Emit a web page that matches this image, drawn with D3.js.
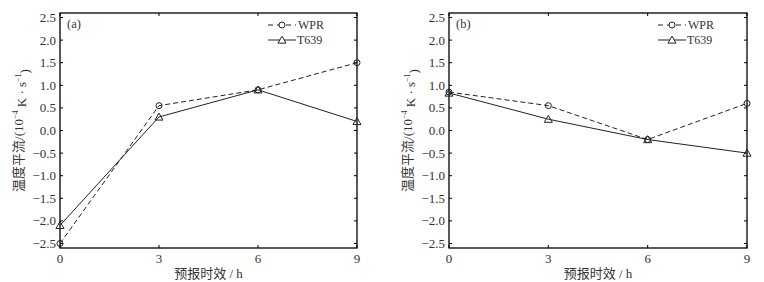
<!DOCTYPE html>
<html>
<head>
<meta charset="utf-8">
<script src="https://cdn.jsdelivr.net/npm/d3@7"></script>
<style>
body { margin: 0; background: #fff; }
svg { display: block; }
</style>
</head>
<body>
<script>
var hours = [0, 3, 6, 9];
var yTicks = [-2.5, -2.0, -1.5, -1.0, -0.5, 0.0, 0.5, 1.0, 1.5, 2.0, 2.5];
var wprA = [-2.5, 0.55, 0.9, 1.5];
var t639A = [-2.1, 0.3, 0.9, 0.2];
var wprB = [0.85, 0.55, -0.2, 0.6];
var t639B = [0.83, 0.25, -0.2, -0.5];

var width = 764, height = 282;
var svg = d3.select("body").append("svg")
    .attr("width", width)
    .attr("height", height);

var serif = "'Liberation Serif', 'Times New Roman', serif";
var cjk = "'Noto Sans CJK SC', sans-serif";

function panel(left, right, tag, wpr, t639) {
    var top = 13, bottom = 248;
    var x = d3.scaleLinear().domain([0, 9]).range([left, right]);
    var y = d3.scaleLinear().domain([-2.6, 2.6]).range([bottom, top]);
    var g = svg.append("g");

    // box
    g.append("rect")
        .attr("x", left).attr("y", top)
        .attr("width", right - left).attr("height", bottom - top)
        .attr("fill", "none").attr("stroke", "#000").attr("stroke-width", 1.3);

    // ticks (inward, mirrored)
    yTicks.forEach(function (v) {
        g.append("line").attr("x1", left).attr("x2", left + 3)
            .attr("y1", y(v)).attr("y2", y(v)).attr("stroke", "#000");
        g.append("line").attr("x1", right).attr("x2", right - 3)
            .attr("y1", y(v)).attr("y2", y(v)).attr("stroke", "#000");
        g.append("text")
            .attr("x", left - 4).attr("y", y(v)).attr("dy", "0.35em")
            .attr("text-anchor", "end")
            .attr("font-family", serif).attr("font-size", "13px").attr("fill", "#333")
            .text(d3.format(".1f")(v).replace("-", "\u2212"));
    });
    hours.forEach(function (v) {
        g.append("line").attr("x1", x(v)).attr("x2", x(v))
            .attr("y1", bottom).attr("y2", bottom - 3).attr("stroke", "#000");
        g.append("line").attr("x1", x(v)).attr("x2", x(v))
            .attr("y1", top).attr("y2", top + 3).attr("stroke", "#000");
        g.append("text")
            .attr("x", x(v)).attr("y", bottom + 15)
            .attr("text-anchor", "middle")
            .attr("font-family", serif).attr("font-size", "13px").attr("fill", "#333")
            .text(v);
    });

    // axis titles
    g.append("text")
        .attr("transform", "translate(" + (left - 37) + "," + ((top + bottom) / 2) + ") rotate(-90)")
        .attr("text-anchor", "middle")
        .attr("font-size", "13px").attr("fill", "#333")
        .call(function (t) {
            t.append("tspan").attr("font-family", cjk).text("温度平流");
            t.append("tspan").attr("font-family", serif).text("/(10");
            t.append("tspan").attr("font-family", serif).attr("font-size", "8px").attr("dy", "-0.6em").text("\u22124");
            t.append("tspan").attr("font-family", serif).attr("dy", "0.6em").text("  K \u00b7 s");
            t.append("tspan").attr("font-family", serif).attr("font-size", "8px").attr("dy", "-0.6em").text("\u22121");
            t.append("tspan").attr("font-family", serif).attr("dy", "0.6em").text(")");
        });
    g.append("text")
        .attr("x", (left + right) / 2).attr("y", 278)
        .attr("text-anchor", "middle")
        .attr("font-size", "13px").attr("fill", "#333")
        .call(function (t) {
            t.append("tspan").attr("font-family", cjk).text("预报时效");
            t.append("tspan").attr("font-family", serif).text(" / h");
        });

    g.append("text")
        .attr("x", left + 7).attr("y", 28)
        .attr("font-family", serif).attr("font-size", "12.5px").attr("fill", "#333")
        .text(tag);

    var line = d3.line().x(function (d, i) { return x(hours[i]); }).y(function (d) { return y(d); });

    g.append("path").datum(wpr).attr("d", line)
        .attr("fill", "none").attr("stroke", "#222").attr("stroke-width", 1)
        .attr("stroke-dasharray", "5,3");
    g.append("path").datum(t639).attr("d", line)
        .attr("fill", "none").attr("stroke", "#222").attr("stroke-width", 1);

    var tri = d3.symbol().type(d3.symbolTriangle).size(28);
    g.selectAll(".c").data(wpr).enter().append("circle")
        .attr("cx", function (d, i) { return x(hours[i]); })
        .attr("cy", function (d) { return y(d); })
        .attr("r", 3).attr("fill", "none").attr("stroke", "#222");
    g.selectAll(".t").data(t639).enter().append("path")
        .attr("d", tri)
        .attr("transform", function (d, i) { return "translate(" + x(hours[i]) + "," + (y(d) + 0.8) + ")"; })
        .attr("fill", "none").attr("stroke", "#222");

    // legend
    var lx = right - 89, ly1 = 25, ly2 = 40;
    g.append("line").attr("x1", lx).attr("x2", lx + 28).attr("y1", ly1).attr("y2", ly1)
        .attr("stroke", "#222").attr("stroke-dasharray", "5,4");
    g.append("circle").attr("cx", lx + 14).attr("cy", ly1).attr("r", 3)
        .attr("fill", "#fff").attr("stroke", "#222");
    g.append("text").attr("x", lx + 30).attr("y", ly1).attr("dy", "0.35em")
        .attr("font-family", serif).attr("font-size", "12px").attr("fill", "#333").text("WPR");
    g.append("line").attr("x1", lx).attr("x2", lx + 28).attr("y1", ly2).attr("y2", ly2)
        .attr("stroke", "#222");
    g.append("path").attr("d", tri)
        .attr("transform", "translate(" + (lx + 14) + "," + (ly2 + 0.8) + ")")
        .attr("fill", "#fff").attr("stroke", "#222");
    g.append("text").attr("x", lx + 29).attr("y", ly2).attr("dy", "0.35em")
        .attr("font-family", serif).attr("font-size", "12px").attr("fill", "#333").text("T639");
}

panel(60, 357, "(a)", wprA, t639A);
panel(449, 747, "(b)", wprB, t639B);
</script>
</body>
</html>
